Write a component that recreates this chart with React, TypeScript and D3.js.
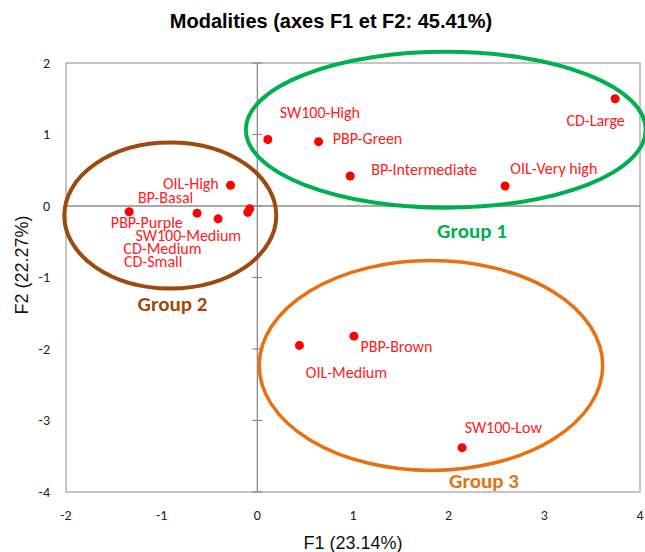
import React from "react";
import * as d3 from "d3";

// ---- data ----
const modalities = [
  "OIL-High", "BP-Basal", "PBP-Purple", "SW100-Medium", "CD-Medium", "CD-Small",
  "SW100-High", "PBP-Green", "BP-Intermediate", "OIL-Very high", "CD-Large",
  "OIL-Medium", "PBP-Brown", "SW100-Low",
];
const f1Values = [-0.28, -0.63, -1.34, -0.41, -0.10, -0.08, 0.11, 0.64, 0.97, 2.59, 3.74, 0.44, 1.01, 2.14];
const f2Values = [0.29, -0.10, -0.08, -0.18, -0.09, -0.04, 0.93, 0.90, 0.42, 0.28, 1.50, -1.95, -1.82, -3.38];

const xTicks = [-2, -1, 0, 1, 2, 3, 4];
const yTicks = [-4, -3, -2, -1, 0, 1, 2];

const groupNames = ["Group 1", "Group 2", "Group 3"];
const groupCx = [1.97, -0.91, 1.815];
const groupCy = [1.067, -0.133, -2.23];
const groupRx = [2.09, 1.108, 1.795];
const groupRy = [1.09, 1.02, 1.468];
const groupLabelX = [2.244, -0.887, 2.369];
const groupLabelY = [-0.35, -1.36, -3.84];

// ---- layout (pixel label offsets from points) ----
const labelOffsets: [number, number][] = [
  [-39.7, -2.3], [-31.5, -15.7], [17.7, 10.7], [-29.8, 16.4], [-85.3, 36.3], [-96.5, 52.4],
  [52, -27.3], [49, -3], [74, -6.3], [48.7, -17.7], [-19.5, 21.7],
  [47, 27], [42.5, 10.6], [41.2, -20.6],
];
const groupColors = ["#00b050", "#9c4a0e", "#e87011"];
const groupStroke = [4, 4, 3.5];

const W = 645, H = 552;
const left = 66, right = 640, top = 63, bottom = 492;

export default function App() {
  const x = d3.scaleLinear().domain([-2, 4]).range([left, right]);
  const y = d3.scaleLinear().domain([-4, 2]).range([bottom, top]);
  const labelFont = "Carlito, Calibri, Lato, 'Open Sans', sans-serif";
  const axisFont = "'Liberation Sans', Arial, sans-serif";

  return (
    <div style={{ position: "absolute", left: 0, top: 0 }}>
      <svg width={W} height={H} style={{ display: "block", background: "#fff" }}>
        <text x={331} y={28} textAnchor="middle" fontFamily={axisFont} fontWeight="bold" fontSize={20} fill="#000">
          Modalities (axes F1 et F2: 45.41%)
        </text>
        {/* plot border */}
        <rect x={left} y={top} width={right - left} height={bottom - top} fill="none" stroke="#b3b3b3" strokeWidth={1.5} />
        {/* zero axes */}
        <line x1={x(0)} x2={x(0)} y1={top} y2={bottom} stroke="#8c8c8c" strokeWidth={1.3} />
        <line x1={left} x2={right} y1={y(0)} y2={y(0)} stroke="#8c8c8c" strokeWidth={1.3} />
        {yTicks.map((t) => (
          <line key={"yt" + t} x1={x(0) - 5} x2={x(0) + 5} y1={y(t)} y2={y(t)} stroke="#8c8c8c" strokeWidth={1.2} />
        ))}
        {/* tick labels */}
        {yTicks.map((t) => (
          <text key={"yl" + t} x={50} y={y(t)} dy="0.35em" textAnchor="end" fontFamily={labelFont} fontSize={14} fill="#222">
            {t}
          </text>
        ))}
        {xTicks.map((t) => (
          <text key={"xl" + t} x={x(t)} y={515} dy="0.35em" textAnchor="middle" fontFamily={labelFont} fontSize={14} fill="#222">
            {t}
          </text>
        ))}
        {/* axis titles */}
        <text x={353} y={549} textAnchor="middle" fontFamily={axisFont} fontSize={18} fill="#111">
          F1 (23.14%)
        </text>
        <text transform={`translate(28,265) rotate(-90)`} textAnchor="middle" fontFamily={axisFont} fontSize={18} fill="#111">
          F2 (22.27%)
        </text>
        {/* group ellipses */}
        {groupNames.map((g, i) => (
          <ellipse
            key={"e" + g}
            cx={x(groupCx[i])}
            cy={y(groupCy[i])}
            rx={x(groupRx[i]) - x(0)}
            ry={y(0) - y(groupRy[i])}
            fill="none"
            stroke={groupColors[i]}
            strokeWidth={groupStroke[i]}
          />
        ))}
        {/* points */}
        {modalities.map((m, i) => (
          <circle key={"p" + m} cx={x(f1Values[i])} cy={y(f2Values[i])} r={4.5} fill="#ff0000" />
        ))}
        {modalities.map((m, i) => (
          <text
            key={"l" + m}
            x={x(f1Values[i]) + labelOffsets[i][0]}
            y={y(f2Values[i]) + labelOffsets[i][1]}
            dy="0.35em"
            textAnchor="middle"
            fontFamily={labelFont}
            fontSize={16}
            fill="#ff1a1a"
          >
            {m}
          </text>
        ))}
        {groupNames.map((g, i) => (
          <text
            key={"g" + g}
            x={x(groupLabelX[i])}
            y={y(groupLabelY[i])}
            dy="0.35em"
            textAnchor="middle"
            fontFamily={labelFont}
            fontWeight="bold"
            fontSize={21}
            fill={groupColors[i]}
          >
            {g}
          </text>
        ))}
      </svg>
    </div>
  );
}
